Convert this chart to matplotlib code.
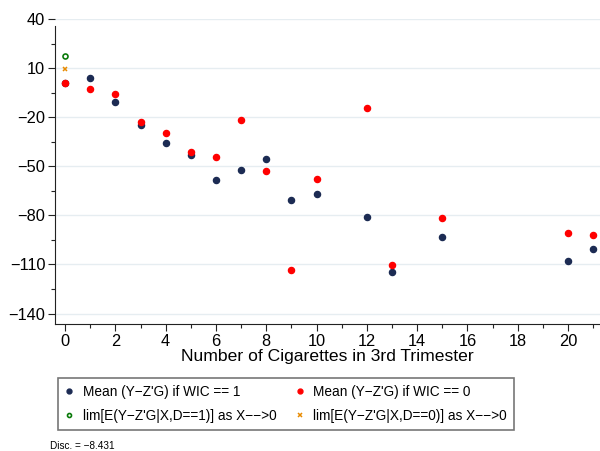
import matplotlib.pyplot as plt

# number of cigarettes (x) and mean residual outcome per group
x_wic1 = [0, 1, 2, 3, 4, 5, 6, 7, 8, 9, 10, 12, 13, 15, 20, 21]
y_wic1 = [0.7, 3.8, -10.7, -24.6, -35.8, -43.0, -58.4, -52.3, -45.6, -70.4,
          -66.7, -80.8, -114.7, -93.5, -107.7, -100.5]
x_wic0 = [0, 1, 2, 3, 4, 5, 6, 7, 8, 9, 10, 12, 13, 15, 20, 21]
y_wic0 = [0.7, -2.8, -6.0, -22.8, -29.7, -41.3, -44.5, -21.7, -53.1, -113.5,
          -57.7, -14.2, -110.4, -81.8, -90.8, -92.2]
lim_d1 = 17.6
lim_d0 = 9.3
disc = -8.431

xticks = list(range(0, 22, 2))
yticks = [40, 10, -20, -50, -80, -110, -140]

NAVY = "#1c2b53"
RED = "#ff0000"
GREEN = "#0a7a0a"
ORANGE = "#e88a00"


def main():
    plt.rcParams["font.family"] = ["Liberation Sans", "DejaVu Sans"]
    fig = plt.figure(figsize=(6, 4.51), dpi=100)
    ax = fig.add_axes([55 / 600, 1 - 324 / 451, 545 / 600, (324 - 19) / 451])

    h1, = ax.plot(x_wic1, y_wic1, "o", color=NAVY, ms=4.4, ls="none",
                  label="Mean (Y\u2212Z'G) if WIC == 1", zorder=3)
    h2, = ax.plot(x_wic0, y_wic0, "o", color=RED, ms=4.4, ls="none",
                  label="Mean (Y\u2212Z'G) if WIC == 0", zorder=4)
    h3, = ax.plot([0], [lim_d1], "o", mfc="none", mec=GREEN, mew=1.2, ms=3.6,
                  ls="none", label="lim[E(Y\u2212Z'G|X,D==1)] as X\u2212\u2212>0", zorder=5)
    h4, = ax.plot([0], [lim_d0], "x", color=ORANGE, mew=1.1, ms=3.2,
                  ls="none", label="lim[E(Y\u2212Z'G|X,D==0)] as X\u2212\u2212>0", zorder=5)

    ax.set_xlim(-0.4, 21.27)
    ax.set_ylim(-146.4, 40)
    ax.set_xticks(xticks)
    ax.set_xticks(range(1, 22, 2), minor=True)
    ax.set_yticks(yticks)
    ax.set_yticks([25, -5, -35, -65, -95, -125], minor=True)
    ax.tick_params(axis="both", which="major", length=5, width=0.8,
                   labelsize=11.8, color="#222222")
    ax.tick_params(axis="both", which="minor", length=3, width=0.8, color="#222222")
    ax.tick_params(axis="y", pad=2)
    ax.tick_params(axis="x", pad=2)

    ax.grid(axis="y", which="major", color="#e6edf1", lw=1)
    ax.set_axisbelow(True)
    for s in ("top", "right"):
        ax.spines[s].set_visible(False)
    ax.spines["left"].set_bounds(-146.4, 35.7)
    ax.spines["left"].set_color("#222222")
    ax.spines["bottom"].set_color("#222222")

    ax.set_xlabel("Number of Cigarettes in 3rd Trimester", fontsize=12.6, labelpad=0)

    leg = fig.legend([h1, h3, h2, h4], [h.get_label() for h in (h1, h3, h2, h4)],
                     loc="center", bbox_to_anchor=(286 / 600, 1 - 404 / 451),
                     ncol=2, fontsize=9.8, frameon=True, fancybox=False,
                     edgecolor="#555555", handlelength=0.6, handletextpad=0.7,
                     columnspacing=1.4, labelspacing=0.7, borderpad=0.5,
                     borderaxespad=0, markerscale=0.8)
    leg.get_frame().set_linewidth(1.2)

    fig.text(50 / 600, 1 - 446 / 451, "Disc. = \u22128.431", fontsize=7.2,
             va="center", ha="left")

    fig.savefig("out.png", dpi=100)


if __name__ == "__main__":
    main()
